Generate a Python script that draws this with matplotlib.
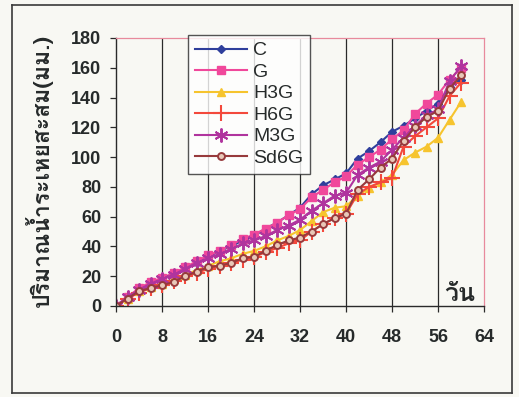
import matplotlib
matplotlib.use("Agg")
import matplotlib.pyplot as plt
from matplotlib import font_manager
from matplotlib.ft2font import FT2Font

# Cumulative evaporation (mm) recorded every two days
days = list(range(0, 62, 2))
series_names = ["C", "G", "H3G", "H6G", "M3G", "Sd6G"]
c_vals = [0, 6, 11, 15, 18, 21, 25, 29, 33, 37, 40, 44, 47, 52, 56, 61,
          66, 75, 81, 85, 89, 99, 104, 110, 117, 121, 126, 131, 136, 147, 152]
g_vals = [0, 6, 12, 16, 19, 22, 26, 30, 34, 37, 41, 45, 48, 52, 56, 61,
          65, 73, 78, 83, 87, 95, 100, 105, 112, 118, 129, 136, 142, 152, 160]
h3g_vals = [0, 5, 10, 13, 15, 18, 21, 24, 27, 30, 32, 35, 37, 40, 44, 47,
            51, 57, 63, 66, 67, 74, 79, 83, 88, 98, 103, 107, 113, 125, 137]
h6g_vals = [0, 5, 9, 12, 14, 17, 20, 22, 25, 27, 29, 31, 33, 36, 39, 42,
            44, 50, 55, 59, 62, 75, 80, 83, 86, 107, 114, 120, 126, 141, 150]
m3g_vals = [0, 6, 11, 15, 18, 21, 25, 29, 32, 35, 38, 42, 44, 47, 51, 54,
            58, 64, 69, 74, 76, 88, 93, 97, 105, 113, 121, 128, 132, 151, 161]
sd6g_vals = [0, 5, 10, 12, 14, 16, 20, 23, 26, 27, 29, 32, 33, 37, 41, 44,
             46, 50, 55, 59, 62, 78, 85, 93, 99, 111, 120, 127, 131, 146, 155]
x_ticks = [0, 8, 16, 24, 32, 40, 48, 56, 64]
y_ticks = [0, 20, 40, 60, 80, 100, 120, 140, 160, 180]
y_label = "ปริมาณน้ำระเหยสะสม(มม.)"
x_label = "วัน"


def thai_family():
    for fe in font_manager.fontManager.ttflist:
        try:
            f = FT2Font(fe.fname)
            if f.get_char_index(0x0E1B) and f.get_char_index(0x0E21):
                return fe.name
        except Exception:
            continue
    return "DejaVu Sans"


THAI = [thai_family(), "DejaVu Sans"]
LATIN = ["Liberation Sans", "DejaVu Sans"]
TEXT_COLOR = "#262a2a"
BG = "#f8f8f3"

styles = {
    "C": dict(color="#2f3f9c", marker="D", ms=4.5, mfc="#2f3f9c", mec="#2f3f9c"),
    "G": dict(color="#f0489b", marker="s", ms=5.5, mfc="#f0489b", mec="#f0489b"),
    "H3G": dict(color="#f6c42e", marker="^", ms=6, mfc="#f6c42e", mec="#f6c42e"),
    "H6G": dict(color="#f3493c", marker="+", ms=11, mew=1.5),
    "M3G": dict(color="#b0349e", marker=(6, 2, 0), ms=10, mew=1.4),
    "Sd6G": dict(color="#973a3c", marker="o", ms=5, mfc="#e8c8b8", mec="#973a3c", mew=1.4),
}
data = {"C": c_vals, "G": g_vals, "H3G": h3g_vals, "H6G": h6g_vals,
        "M3G": m3g_vals, "Sd6G": sd6g_vals}

fig = plt.figure(figsize=(5.19, 3.97), dpi=100, facecolor=BG)

# Chart-area frame drawn as an empty background axes
frame_ax = fig.add_axes([12 / 519, 4 / 397, 500 / 519, 388 / 397], zorder=-5)
frame_ax.set_facecolor(BG)
frame_ax.set_xticks([])
frame_ax.set_yticks([])
for sp in frame_ax.spines.values():
    sp.set_color("#3a3a3a")
    sp.set_linewidth(1.2)

ax = fig.add_axes([116 / 519, 1 - 306 / 397, 368 / 519, 268 / 397])
ax.set_facecolor(BG)

for name in series_names:
    ax.plot(days, data[name], lw=1.5, label=name, **styles[name])

ax.set_xlim(0, 64)
ax.set_ylim(0, 180)
ax.set_xticks(x_ticks)
ax.set_yticks(y_ticks)
for xv in x_ticks[1:-1]:
    ax.axvline(xv, color="#2a2a2a", lw=0.9, zorder=0.5)

for side in ("left", "bottom"):
    ax.spines[side].set_color("#2a2a2a")
    ax.spines[side].set_linewidth(1.0)
for side in ("top", "right"):
    ax.spines[side].set_color("#e88a9c")
    ax.spines[side].set_linewidth(0.9)

ax.tick_params(axis="both", direction="out", length=4.5, width=0.9,
               color="#2a2a2a", labelcolor=TEXT_COLOR, labelsize=13)
ax.tick_params(axis="x", pad=12)
ax.tick_params(axis="y", pad=6)
for lab in ax.get_xticklabels() + ax.get_yticklabels():
    lab.set_fontfamily(LATIN)
    lab.set_fontweight("bold")

ax.text(59.8, 7.5, x_label, ha="center", va="center", fontsize=18,
        fontweight="bold", color=TEXT_COLOR, family=THAI)
fig.text(39 / 519, 1 - 170 / 397, y_label, rotation=90, ha="center",
         va="center", fontsize=16.5, fontweight="bold", color=TEXT_COLOR,
         family=THAI)

leg = fig.legend(loc="upper left", bbox_to_anchor=(188 / 519, 1 - 35 / 397),
                 frameon=True, fancybox=False, handlelength=2.7,
                 handletextpad=0.3, labelspacing=0.2, borderpad=0.35,
                 borderaxespad=0, prop={"family": LATIN, "size": 14})
frame = leg.get_frame()
frame.set_edgecolor("#2a2a2a")
frame.set_facecolor("#ffffff")
frame.set_linewidth(1.0)
for t in leg.get_texts():
    t.set_color(TEXT_COLOR)

fig.savefig("out.png", dpi=100, facecolor=BG)
